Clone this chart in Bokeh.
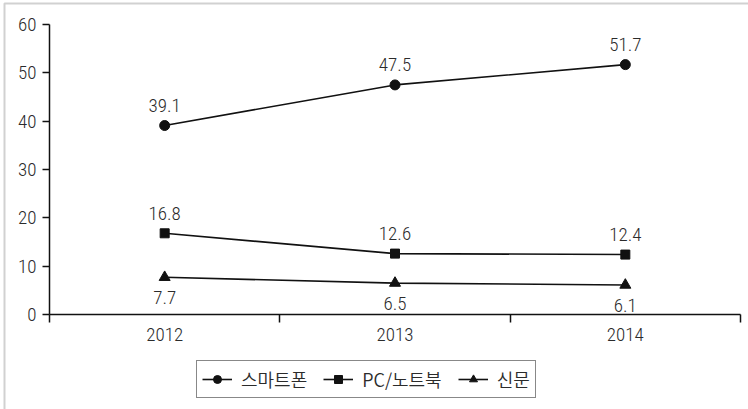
from bokeh.plotting import figure
from bokeh.models import (Range1d, FixedTicker, Legend, LegendItem, BoxAnnotation,
                          ColumnDataSource)
from bokeh.core.properties import value
from bokeh.embed import file_html
from bokeh.resources import INLINE

# Data
years = ["2012", "2013", "2014"]
smartphone = [39.1, 47.5, 51.7]
pc_notebook = [16.8, 12.6, 12.4]
newspaper = [7.7, 6.5, 6.1]
series_names = ["스마트폰", "PC/노트북", "신문"]
y_ticks = [0, 10, 20, 30, 40, 50, 60]

NUM_FONT = ("'Liberation Sans Narrow', 'Roboto Condensed Light', 'Roboto Condensed', "
            "'Liberation Sans', sans-serif")
KR_FONT = "'Noto Sans CJK KR DemiLight', 'Noto Sans CJK KR', sans-serif"
INK = "#2b2b2b"
LINE = "#111111"

# category centres sit halfway between the boundary ticks
xs = [i + 0.5 for i in range(len(years))]
bounds = list(range(len(years) + 1))

W, H = 748, 409
# plot box in page pixels: left 49, right 740, top 24, bottom (value 0) 314
px_x = (740 - 49) / len(years)
px_y = (314 - 24) / 60
x_range = Range1d(-49 / px_x, len(years) + (W - 740) / px_x)
y_range = Range1d(-(H - 314) / px_y, 60 + 24 / px_y)

p = figure(width=W, height=H, output_backend="svg", toolbar_location=None,
           x_range=x_range, y_range=y_range, min_border=0,
           x_axis_location="below", y_axis_location="left")
p.outline_line_color = None
p.grid.visible = False
p.background_fill_color = "white"
p.border_fill_color = "white"

# x axis pinned at y = 0: labels at centres, ticks at category boundaries
xa = p.xaxis[0]
xa.fixed_location = 0
xa.bounds = (0, len(years))
xa.ticker = FixedTicker(ticks=xs, minor_ticks=bounds)
xa.major_label_overrides = {x: y for x, y in zip(xs, years)}
xa.major_tick_out = 0
xa.major_tick_in = 0
xa.minor_tick_out = 8
xa.minor_tick_in = 0
xa.minor_tick_line_color = LINE
xa.minor_tick_line_width = 1.5
xa.major_label_standoff = 5

# y axis pinned at x = 0
ya = p.yaxis[0]
ya.fixed_location = 0
ya.bounds = (0, 60)
ya.ticker = FixedTicker(ticks=y_ticks)
ya.major_tick_out = 7
ya.major_tick_in = 0
ya.minor_tick_out = 0
ya.minor_tick_in = 0
ya.major_tick_line_color = LINE
ya.major_tick_line_width = 1.5
ya.major_label_standoff = 6

for ax in (xa, ya):
    ax.axis_line_color = LINE
    ax.axis_line_width = 1.5
    ax.major_label_text_font = NUM_FONT
    ax.major_label_text_font_size = "19px"
    ax.major_label_text_color = INK

# series lines with markers
line_kw = dict(line_color=LINE, line_width=1.6)
r1l = p.line(xs, smartphone, **line_kw)
r1m = p.scatter(xs, smartphone, marker="circle", size=10, color=LINE)
r2l = p.line(xs, pc_notebook, **line_kw)
r2m = p.scatter(xs, pc_notebook, marker="square", size=9, color=LINE)
r3l = p.line(xs, newspaper, **line_kw)
r3m = p.scatter(xs, newspaper, marker="triangle", size=11, color=LINE)


# value labels
def add_labels(vals, y_off):
    src = ColumnDataSource(dict(x=xs, y=vals, t=[f"{v:.1f}" for v in vals]))
    p.text(x="x", y="y", text="t", source=src, text_align="center",
           text_baseline="alphabetic", y_offset=y_off,
           text_font=value(NUM_FONT), text_font_size="19px", text_color=INK)


add_labels(smartphone, -20)
add_labels(pc_notebook, -20)
add_labels(newspaper, 20)

# legend under the plot box
legend = Legend(items=[
    LegendItem(label=series_names[0], renderers=[r1l, r1m]),
    LegendItem(label=series_names[1], renderers=[r2l, r2m]),
    LegendItem(label=series_names[2], renderers=[r3l, r3m]),
], orientation="horizontal", location=(196, 11))
legend.border_line_color = LINE
legend.border_line_width = 1.5
legend.background_fill_color = "white"
legend.background_fill_alpha = 1
legend.label_text_font = KR_FONT
legend.label_text_font_size = "18px"
legend.label_text_color = INK
legend.glyph_width = 30
legend.glyph_height = 20
legend.label_height = 20
legend.label_standoff = 9
legend.spacing = 16
legend.padding = 5
legend.margin = 0
p.add_layout(legend, "center")

# frame around the whole chart
p.add_layout(BoxAnnotation(left=4, right=900, top=3, bottom=700,
                           left_units="canvas", right_units="canvas",
                           top_units="canvas", bottom_units="canvas",
                           fill_alpha=0, line_color="#666666", line_width=2))

open("out.html", "w").write(file_html(p, INLINE))
